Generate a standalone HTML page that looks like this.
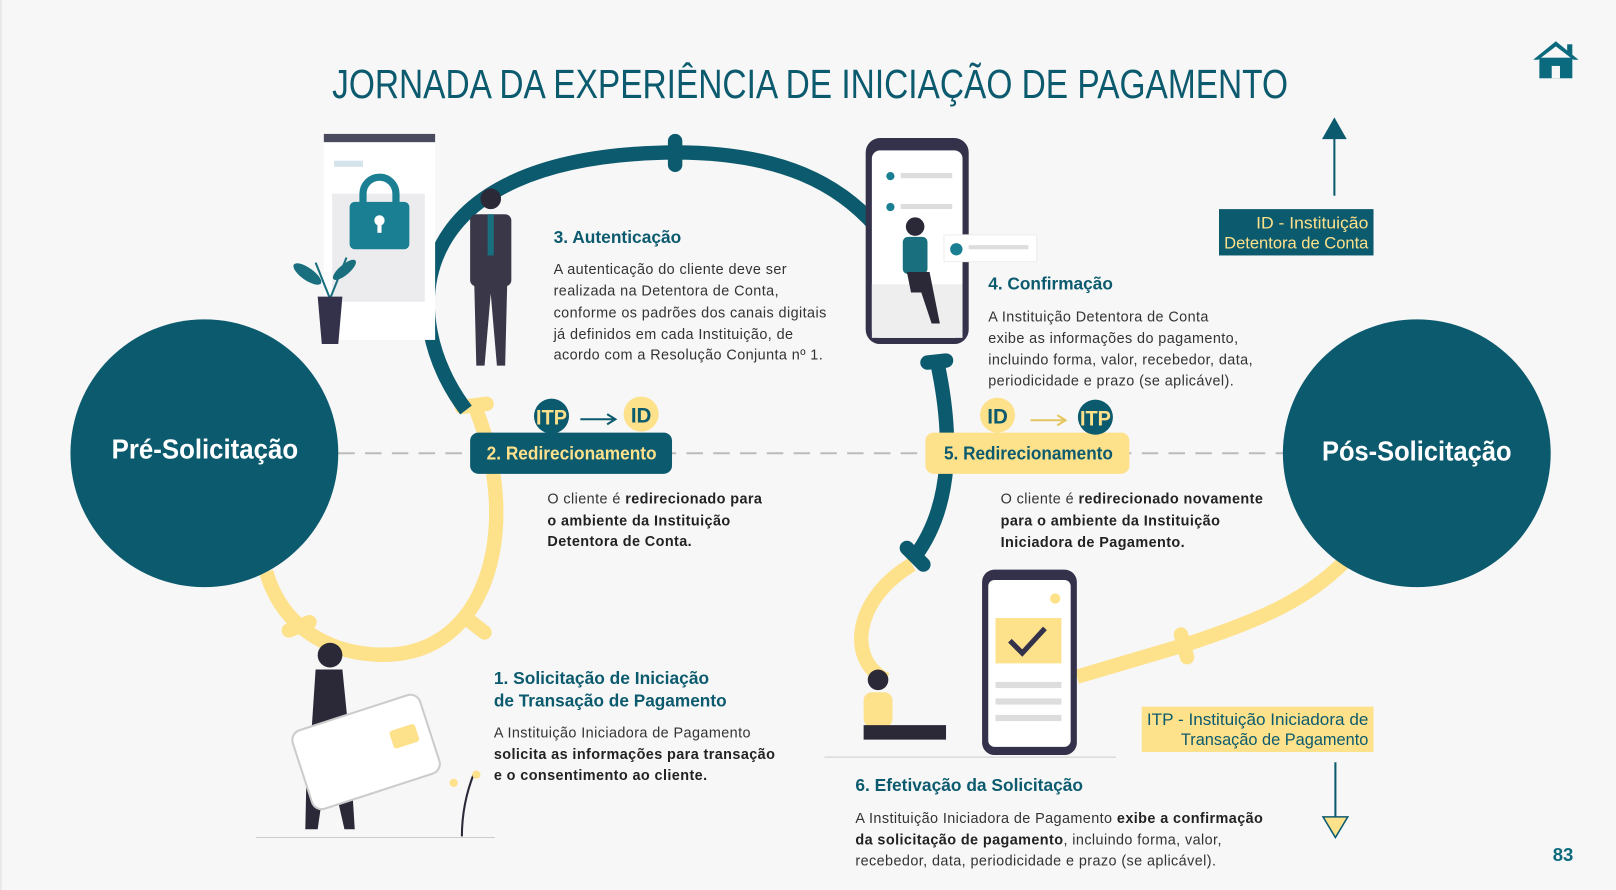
<!DOCTYPE html>
<html><head><meta charset="utf-8"><style>
html,body{margin:0;padding:0;background:#f7f7f7;}
svg{display:block}
.h{font-family:"Liberation Sans",sans-serif;font-weight:bold;fill:#0c5a6e}
.b{font-family:"Liberation Sans",sans-serif;font-size:14px;fill:#333;letter-spacing:0.4px}
.bb{font-weight:bold;fill:#222}
.n{font-family:"Liberation Sans",sans-serif;font-size:16px}
</style></head><body>
<svg width="1616" height="890" viewBox="0 0 1568 864" xmlns="http://www.w3.org/2000/svg">
<rect width="1568" height="864" fill="#f7f7f7"/>
<line x1="0.5" y1="0" x2="0.5" y2="864" stroke="#ddd"/>
<text x="786" y="95" text-anchor="middle" textLength="928" lengthAdjust="spacingAndGlyphs" style="font-family:'Liberation Sans',sans-serif;font-size:40px;fill:#0c5a6e">JORNADA DA EXPERIÊNCIA DE INICIAÇÃO DE PAGAMENTO</text>
<!-- home -->
<g fill="#0c6a7e"><polygon points="1488,58 1510,40 1532,58 1527,58 1510,45 1493,58"/><rect x="1494" y="56" width="32" height="20"/><rect x="1521" y="43" width="5" height="10"/></g>
<rect x="1506" y="64" width="8" height="12" fill="#f7f7f7"/>

<line x1="328" y1="440" x2="1245" y2="440" stroke="#bbb" stroke-width="2" stroke-dasharray="16,10"/>

<!-- yellow arcs -->
<g fill="none" stroke="#fde18b" stroke-width="14" stroke-linecap="butt">
<path d="M258 555 C275 615 330 640 385 635 C475 625 505 510 462 398"/>
<path d="M885 548 C830 580 820 640 860 660"/>
<path d="M1045 657 L1150 626 C1230 600 1270 580 1305 545"/>
</g>
<g stroke="#fde18b" stroke-width="14" stroke-linecap="round">
<line x1="280" y1="612" x2="300" y2="604"/><line x1="452" y1="600" x2="470" y2="614"/><line x1="448" y1="395" x2="472" y2="392"/><line x1="1146" y1="616" x2="1152" y2="638"/>
</g>
<!-- dark arcs -->
<g fill="none" stroke="#0c5a6e" stroke-width="14">
<path d="M452 398 C385 310 385 150 655 148 C760 148 815 180 850 220"/>
<path d="M908 345 C925 420 925 490 888 540"/>
</g>
<g stroke="#0c5a6e" stroke-width="14" stroke-linecap="round">
<line x1="655" y1="137" x2="655" y2="160"/><line x1="900" y1="352" x2="918" y2="350"/><line x1="880" y1="532" x2="896" y2="548"/>
</g>

<!-- big circles -->
<circle cx="198" cy="440" r="130" fill="#0c5a6e"/>
<circle cx="1375" cy="440" r="130" fill="#0c5a6e"/>
<text x="108" y="445" textLength="181" lengthAdjust="spacingAndGlyphs" fill="#fff" style="font-family:'Liberation Sans',sans-serif;font-weight:bold;font-size:27px">Pré-Solicitação</text>
<text x="1283" y="447" textLength="184" lengthAdjust="spacingAndGlyphs" fill="#fff" style="font-family:'Liberation Sans',sans-serif;font-weight:bold;font-size:27px">Pós-Solicitação</text>

<!-- redirection boxes -->
<rect x="456" y="420" width="196" height="40" rx="8" fill="#0c5a6e"/>
<text x="472" y="446" textLength="165" lengthAdjust="spacingAndGlyphs" fill="#fde18b" style="font-family:'Liberation Sans',sans-serif;font-weight:bold;font-size:18px">2. Redirecionamento</text>
<rect x="898" y="420" width="198" height="40" rx="8" fill="#fde18b"/>
<text x="916" y="446" textLength="164" lengthAdjust="spacingAndGlyphs" class="h" style="font-size:18px">5. Redirecionamento</text>
<circle cx="535" cy="404" r="17" fill="#0c5a6e"/><text x="535" y="412" text-anchor="middle" textLength="30" lengthAdjust="spacingAndGlyphs" fill="#fde18b" style="font-family:'Liberation Sans',sans-serif;font-weight:bold;font-size:21px">ITP</text>
<circle cx="622" cy="402" r="17" fill="#fde18b"/><text x="622" y="410" text-anchor="middle" textLength="20" lengthAdjust="spacingAndGlyphs" class="h" style="font-size:21px">ID</text>
<line x1="563" y1="407" x2="595" y2="407" stroke="#0c5a6e" stroke-width="2"/><polyline points="589,402 597,407 589,412" fill="none" stroke="#0c5a6e" stroke-width="2"/>
<circle cx="968" cy="403" r="17" fill="#fde18b"/><text x="968" y="411" text-anchor="middle" textLength="20" lengthAdjust="spacingAndGlyphs" class="h" style="font-size:21px">ID</text>
<circle cx="1063" cy="405" r="17" fill="#0c5a6e"/><text x="1063" y="413" text-anchor="middle" textLength="30" lengthAdjust="spacingAndGlyphs" fill="#fde18b" style="font-family:'Liberation Sans',sans-serif;font-weight:bold;font-size:21px">ITP</text>
<line x1="1000" y1="408" x2="1032" y2="408" stroke="#e6c560" stroke-width="2"/><polyline points="1026,403 1034,408 1026,413" fill="none" stroke="#e6c560" stroke-width="2"/>

<!-- illustrations: lock window -->
<rect x="314" y="130" width="108" height="200" fill="#fff"/>
<rect x="314" y="130" width="108" height="8" fill="#4a4a5e"/>
<rect x="324" y="156" width="28" height="6" fill="#d4e4ea"/>
<rect x="322" y="188" width="90" height="105" fill="#ececee"/>
<path d="M352 200 v-12 a16 16 0 0 1 32 0 v12" fill="none" stroke="#1a7f92" stroke-width="7"/>
<rect x="339" y="196" width="58" height="46" rx="5" fill="#1a7f92"/>
<circle cx="368" cy="214" r="5" fill="#fff"/><rect x="366" y="214" width="4" height="12" fill="#fff"/>
<path d="M320 290 L306 255 M320 290 L336 250" stroke="#1a6f7e" stroke-width="2"/>
<ellipse cx="298" cy="266" rx="16" ry="6" fill="#1a6f7e" transform="rotate(35 298 266)"/>
<ellipse cx="334" cy="262" rx="14" ry="5" fill="#1a6f7e" transform="rotate(-40 334 262)"/>
<path d="M308 288 h24 l-4 46 h-16z" fill="#34324a"/>
<!-- man -->
<circle cx="476" cy="193" r="10" fill="#2b2838"/>
<rect x="456" y="208" width="40" height="70" rx="6" fill="#3a3848"/>
<path d="M460 275 h32 l-2 80 h-8 l-6 -70 -6 70 h-8z" fill="#3a3848"/>
<rect x="473" y="208" width="6" height="40" fill="#1a6f7e"/>
<!-- phone top -->
<rect x="840" y="134" width="100" height="200" rx="14" fill="#34324a"/>
<rect x="846" y="146" width="88" height="182" rx="8" fill="#fff"/>
<rect x="846" y="276" width="88" height="52" fill="#eee"/>
<circle cx="864" cy="171" r="4" fill="#1a7f92"/><rect x="874" y="168" width="50" height="5" fill="#ddd"/>
<circle cx="864" cy="201" r="4" fill="#1a7f92"/><rect x="874" y="198" width="50" height="5" fill="#ddd"/>
<rect x="916" y="228" width="90" height="26" fill="#fff" stroke="#eee"/><circle cx="928" cy="242" r="6" fill="#1a7f92"/><rect x="940" y="238" width="58" height="4" fill="#ddd"/>
<circle cx="888" cy="220" r="9" fill="#2b2838"/><rect x="876" y="230" width="24" height="36" rx="5" fill="#1a6f7e"/>
<path d="M880 264 h22 l10 50 h-8 l-10 -30 -10 0z" fill="#2b2838"/>
<!-- phone bottom -->
<rect x="953" y="553" width="92" height="180" rx="12" fill="#34324a"/>
<rect x="959" y="563" width="80" height="162" rx="6" fill="#fff"/>
<circle cx="1024" cy="581" r="5" fill="#fde18b"/>
<rect x="966" y="600" width="64" height="44" fill="#fde18b"/>
<polyline points="980,622 992,634 1014,610" fill="none" stroke="#34324a" stroke-width="5"/>
<rect x="966" y="662" width="64" height="6" fill="#ddd"/><rect x="966" y="678" width="64" height="6" fill="#ddd"/><rect x="966" y="694" width="64" height="6" fill="#ddd"/>
<circle cx="852" cy="660" r="10" fill="#2b2838"/><rect x="838" y="672" width="28" height="34" rx="8" fill="#fde18b"/>
<path d="M838 704 h80 v14 h-80z" fill="#2b2838"/>
<line x1="800" y1="735" x2="1083" y2="735" stroke="#ccc"/>
<!-- woman card -->
<circle cx="320" cy="636" r="12" fill="#2b2838"/>
<path d="M306 650 h26 l6 60 h-36z" fill="#2b2838"/>
<path d="M298 710 h40 l6 95 h-10 l-16 -70 -10 70 h-12z" fill="#2b2838"/>
<rect x="290" y="690" width="130" height="80" rx="10" fill="#fff" stroke="#ccc" stroke-width="2" transform="rotate(-18 355 730)"/>
<rect x="382" y="718" width="26" height="18" rx="3" fill="#fde18b" transform="rotate(-18 355 730)"/>
<line x1="248" y1="813" x2="480" y2="813" stroke="#ccc"/>
<path d="M448 812 C448 790 452 770 460 750" stroke="#2b2838" stroke-width="2" fill="none"/>
<circle cx="440" cy="760" r="4" fill="#fde18b"/><circle cx="462" cy="752" r="4" fill="#fde18b"/>

<!-- text blocks -->
<text x="537" y="236" textLength="124" lengthAdjust="spacingAndGlyphs" class="h" style="font-size:17px">3. Autenticação</text>
<text class="b"><tspan x="537" y="266">A autenticação do cliente deve ser</tspan><tspan x="537" y="287">realizada na Detentora de Conta,</tspan><tspan x="537" y="308">conforme os padrões dos canais digitais</tspan><tspan x="537" y="329">já definidos em cada Instituição, de</tspan><tspan x="537" y="349">acordo com a Resolução Conjunta nº 1.</tspan></text>

<text x="959" y="281" textLength="121" lengthAdjust="spacingAndGlyphs" class="h" style="font-size:17px">4. Confirmação</text>
<text class="b"><tspan x="959" y="312">A Instituição Detentora de Conta</tspan><tspan x="959" y="333">exibe as informações do pagamento,</tspan><tspan x="959" y="354">incluindo forma, valor, recebedor, data,</tspan><tspan x="959" y="374">periodicidade e prazo (se aplicável).</tspan></text>

<text class="b"><tspan x="531" y="489">O cliente é </tspan><tspan class="bb">redirecionado para</tspan><tspan x="531" y="510" class="bb">o ambiente da Instituição</tspan><tspan x="531" y="530" class="bb">Detentora de Conta.</tspan></text>
<text class="b"><tspan x="971" y="489">O cliente é </tspan><tspan class="bb">redirecionado novamente</tspan><tspan x="971" y="510" class="bb">para o ambiente da Instituição</tspan><tspan x="971" y="531" class="bb">Iniciadora de Pagamento.</tspan></text>

<text x="479" y="664" textLength="209" lengthAdjust="spacingAndGlyphs" class="h" style="font-size:17px">1. Solicitação de Iniciação</text>
<text x="479" y="686" textLength="226" lengthAdjust="spacingAndGlyphs" class="h" style="font-size:17px">de Transação de Pagamento</text>
<text class="b"><tspan x="479" y="716">A Instituição Iniciadora de Pagamento</tspan><tspan x="479" y="737" class="bb">solicita as informações para transação</tspan><tspan x="479" y="757" class="bb">e o consentimento ao cliente.</tspan></text>

<text x="830" y="768" textLength="221" lengthAdjust="spacingAndGlyphs" class="h" style="font-size:17px">6. Efetivação da Solicitação</text>
<text class="b"><tspan x="830" y="799">A Instituição Iniciadora de Pagamento </tspan><tspan class="bb">exibe a confirmação</tspan><tspan x="830" y="820" class="bb">da solicitação de pagamento</tspan><tspan>, incluindo forma, valor,</tspan><tspan x="830" y="840">recebedor, data, periodicidade e prazo (se aplicável).</tspan></text>

<!-- legends -->
<line x1="1295" y1="190" x2="1295" y2="130" stroke="#0c5a6e" stroke-width="2"/>
<polygon points="1283,135 1295,114 1307,135" fill="#0c5a6e"/>
<rect x="1183" y="203" width="150" height="45" fill="#0c5a6e"/>
<text x="1219" y="222" textLength="109" lengthAdjust="spacingAndGlyphs" fill="#fde18b" class="n">ID - Instituição</text>
<text x="1188" y="241" textLength="140" lengthAdjust="spacingAndGlyphs" fill="#fde18b" class="n">Detentora de Conta</text>
<rect x="1108" y="686" width="225" height="44" fill="#fde18b"/>
<text x="1113" y="704" textLength="215" lengthAdjust="spacingAndGlyphs" fill="#0c5a6e" class="n">ITP - Instituição Iniciadora de</text>
<text x="1146" y="723" textLength="182" lengthAdjust="spacingAndGlyphs" fill="#0c5a6e" class="n">Transação de Pagamento</text>
<line x1="1296" y1="740" x2="1296" y2="795" stroke="#0c5a6e" stroke-width="2"/>
<polygon points="1284,793 1308,793 1296,813" fill="#fde18b" stroke="#0c5a6e" stroke-width="1.5"/>

<text x="1517" y="836" text-anchor="middle" style="font-family:'Liberation Sans',sans-serif;font-weight:bold;font-size:18px;fill:#0c6a7e">83</text>
</svg>
</body></html>
